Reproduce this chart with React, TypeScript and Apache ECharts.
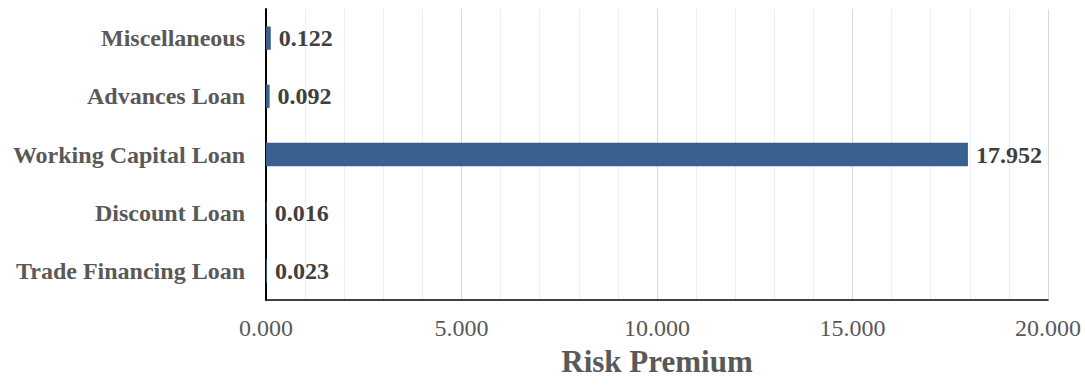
import React, { useEffect, useRef } from "react";
import * as echarts from "echarts";

const categories = [
  "Trade Financing Loan",
  "Discount Loan",
  "Working Capital Loan",
  "Advances Loan",
  "Miscellaneous",
];
const values = [0.023, 0.016, 17.952, 0.092, 0.122];
const xMin = 0;
const xMax = 20;
const xInterval = 1;
const xLabelStep = 5;
const axisTitle = "Risk Premium";

const FONT = '"Liberation Serif", "Times New Roman", serif';

export default function App() {
  const ref = useRef<HTMLDivElement>(null);
  useEffect(() => {
    if (!ref.current) return;
    const chart = echarts.init(ref.current, undefined, { renderer: "svg" });
    chart.setOption({
      animation: false,
      backgroundColor: "#ffffff",
      grid: { left: 266, right: 37, top: 9, bottom: 85, containLabel: false },
      xAxis: {
        type: "value",
        min: xMin,
        max: xMax,
        interval: xInterval,
        name: axisTitle,
        nameLocation: "middle",
        nameGap: 46,
        nameTextStyle: {
          fontFamily: FONT,
          fontSize: 31,
          fontWeight: "bold",
          color: "#595959",
        },
        axisLine: { show: true, lineStyle: { color: "#000000", width: 1.5 } },
        axisTick: { show: false },
        axisLabel: {
          margin: 16,
          fontFamily: FONT,
          fontSize: 24,
          color: "#595959",
          formatter: (v: number) =>
            Math.round(v) % xLabelStep === 0 ? v.toFixed(3) : "",
        },
        splitLine: {
          show: true,
          lineStyle: {
            color: ["#d9d9d9", "#efefef", "#efefef", "#efefef", "#efefef"],
            width: 1,
          },
        },
      },
      yAxis: {
        type: "category",
        data: categories,
        axisLine: { show: true, lineStyle: { color: "#000000", width: 2 } },
        axisTick: { show: false },
        axisLabel: {
          margin: 21,
          fontFamily: FONT,
          fontSize: 24,
          fontWeight: "bold",
          color: "#595959",
        },
        splitLine: { show: false },
      },
      series: [
        {
          type: "bar",
          data: values,
          barWidth: "40%",
          itemStyle: { color: "#38618f" },
          label: {
            show: true,
            position: "right",
            distance: 8,
            fontFamily: FONT,
            fontSize: 24,
            fontWeight: "bold",
            color: "#404040",
            formatter: (p: any) => Number(p.value).toFixed(3),
          },
        },
      ],
    });
    return () => chart.dispose();
  }, []);
  return (
    <div
      ref={ref}
      style={{ position: "fixed", left: 0, top: 0, width: 1085, height: 385 }}
    />
  );
}
